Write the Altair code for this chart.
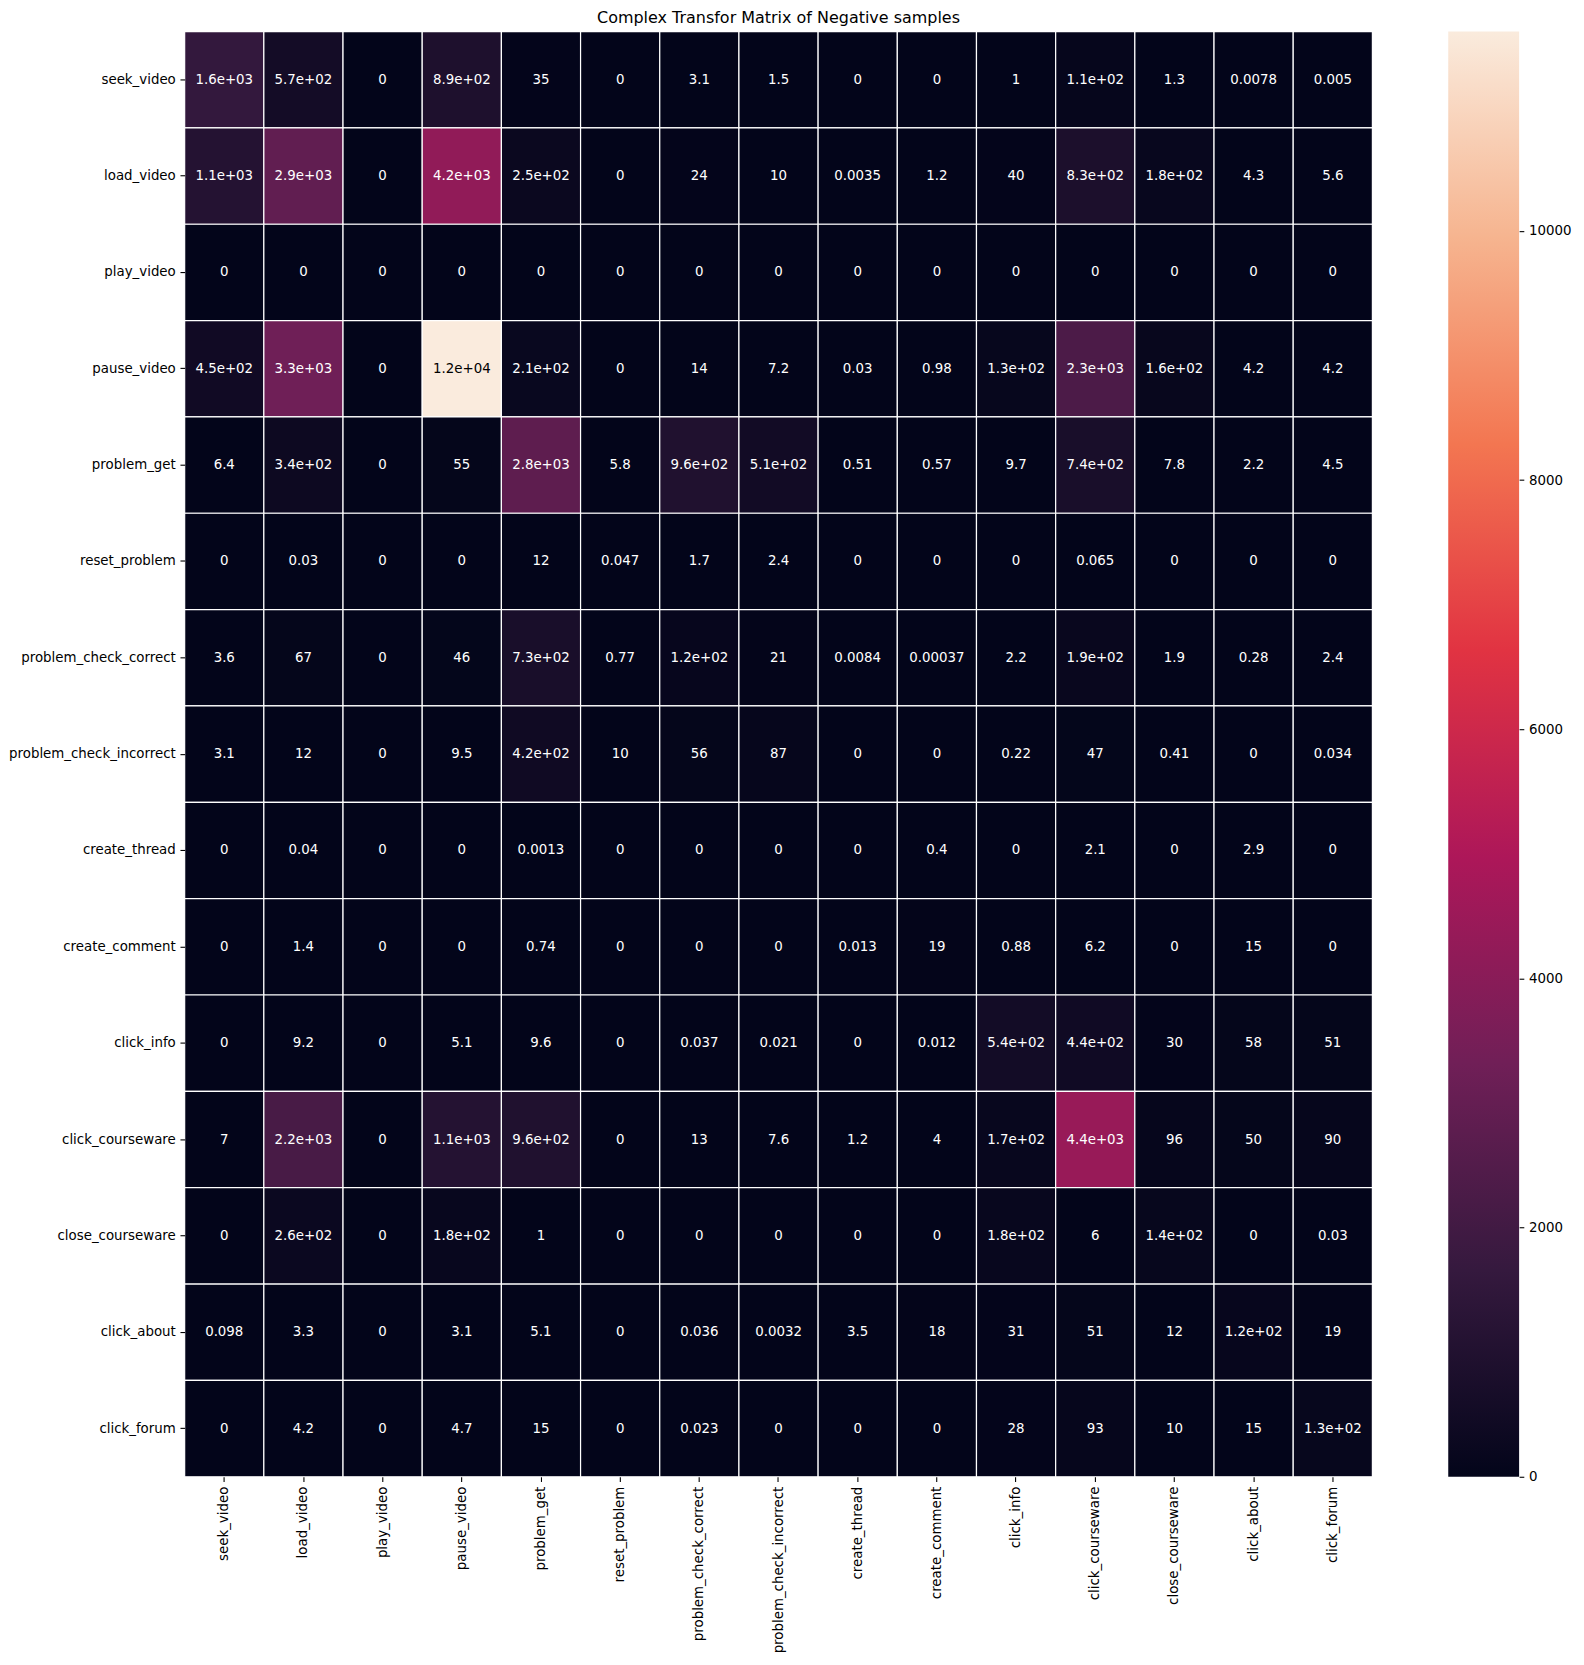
import altair as alt
import pandas as pd

events = ["seek_video", "load_video", "play_video", "pause_video", "problem_get",
          "reset_problem", "problem_check_correct", "problem_check_incorrect",
          "create_thread", "create_comment", "click_info", "click_courseware",
          "close_courseware", "click_about", "click_forum"]

# rows = source event, columns = target event (same order as `events`)
seek_video = [1600, 570, 0, 890, 35, 0, 3.1, 1.5, 0, 0, 1, 110, 1.3, 0.0078, 0.005]
load_video = [1100, 2900, 0, 4200, 250, 0, 24, 10, 0.0035, 1.2, 40, 830, 180, 4.3, 5.6]
play_video = [0, 0, 0, 0, 0, 0, 0, 0, 0, 0, 0, 0, 0, 0, 0]
pause_video = [450, 3300, 0, 11600, 210, 0, 14, 7.2, 0.03, 0.98, 130, 2300, 160, 4.2, 4.2]
problem_get = [6.4, 340, 0, 55, 2800, 5.8, 960, 510, 0.51, 0.57, 9.7, 740, 7.8, 2.2, 4.5]
reset_problem = [0, 0.03, 0, 0, 12, 0.047, 1.7, 2.4, 0, 0, 0, 0.065, 0, 0, 0]
problem_check_correct = [3.6, 67, 0, 46, 730, 0.77, 120, 21, 0.0084, 0.00037, 2.2, 190, 1.9, 0.28, 2.4]
problem_check_incorrect = [3.1, 12, 0, 9.5, 420, 10, 56, 87, 0, 0, 0.22, 47, 0.41, 0, 0.034]
create_thread = [0, 0.04, 0, 0, 0.0013, 0, 0, 0, 0, 0.4, 0, 2.1, 0, 2.9, 0]
create_comment = [0, 1.4, 0, 0, 0.74, 0, 0, 0, 0.013, 19, 0.88, 6.2, 0, 15, 0]
click_info = [0, 9.2, 0, 5.1, 9.6, 0, 0.037, 0.021, 0, 0.012, 540, 440, 30, 58, 51]
click_courseware = [7, 2200, 0, 1100, 960, 0, 13, 7.6, 1.2, 4, 170, 4400, 96, 50, 90]
close_courseware = [0, 260, 0, 180, 1, 0, 0, 0, 0, 0, 180, 6, 140, 0, 0.03]
click_about = [0.098, 3.3, 0, 3.1, 5.1, 0, 0.036, 0.0032, 3.5, 18, 31, 51, 12, 120, 19]
click_forum = [0, 4.2, 0, 4.7, 15, 0, 0.023, 0, 0, 0, 28, 93, 10, 15, 130]

matrix = [seek_video, load_video, play_video, pause_video, problem_get, reset_problem,
          problem_check_correct, problem_check_incorrect, create_thread, create_comment,
          click_info, click_courseware, close_courseware, click_about, click_forum]

colorbar_ticks = [0, 2000, 4000, 6000, 8000, 10000]

# seaborn "rocket" colormap stops
rocket_colors = ["#03051a", "#35193e", "#701f57", "#ad1759", "#e13342", "#f37651", "#f6b48f", "#faebdd"]
rocket_pos = [0, 1 / 7, 2 / 7, 3 / 7, 4 / 7, 5 / 7, 6 / 7, 1]

records = []
for i, src in enumerate(events):
    for j, dst in enumerate(events):
        v = matrix[i][j]
        records.append({"src": src, "dst": dst, "value": v, "label": f"{v:.2g}"})
df = pd.DataFrame(records)
vmax = max(max(r) for r in matrix)

FONT = "DejaVu Sans"
FS = 13.4
TICK = 4.7

color_scale = alt.Scale(domain=[p * vmax for p in rocket_pos], range=rocket_colors,
                        interpolate="rgb")

xenc = alt.X("dst:N", sort=events, title=None,
             scale=alt.Scale(paddingInner=0, paddingOuter=0),
             axis=alt.Axis(labelAngle=270, tickSize=TICK, labelPadding=TICK, domain=False,
                           grid=False))
yenc = alt.Y("src:N", sort=events, title=None,
             scale=alt.Scale(paddingInner=0, paddingOuter=0),
             axis=alt.Axis(tickSize=TICK, labelPadding=TICK, domain=False, grid=False))

base = alt.Chart(df)
cells = base.mark_rect(stroke="white", strokeWidth=1.2).encode(
    x=xenc, y=yenc,
    color=alt.Color("value:Q", scale=color_scale, legend=None),
)
texts = base.mark_text(font=FONT, fontSize=FS, align="center", baseline="middle").encode(
    x=xenc, y=yenc,
    text="label:N",
    color=alt.condition("datum.value > 8000", alt.value("black"), alt.value("white")),
)
heat = alt.layer(cells, texts).properties(
    width=1190, height=1448,
    title=alt.TitleParams("Complex Transfor Matrix of Negative samples", font=FONT,
                          fontSize=16, fontWeight="normal", color="black", offset=5),
)

cb_df = pd.DataFrame({"bar": ["cb"], "lo": [0], "hi": [vmax]})
gradient = alt.LinearGradient(
    gradient="linear", x1=0, x2=0, y1=1, y2=0,
    stops=[alt.GradientStop(offset=p, color=c) for p, c in zip(rocket_pos, rocket_colors)],
)
colorbar = alt.Chart(cb_df).mark_rect(fill=gradient, strokeWidth=0).encode(
    x=alt.X("bar:N", axis=None, scale=alt.Scale(paddingInner=0, paddingOuter=0)),
    y=alt.Y("lo:Q", title=None, scale=alt.Scale(domain=[0, vmax], nice=False, zero=True),
            axis=alt.Axis(orient="right", values=colorbar_ticks, format="d", grid=False,
                          domain=False, tickSize=TICK, labelPadding=TICK)),
    y2="hi:Q",
).properties(width=71, height=1448)

chart = alt.hconcat(heat, colorbar, spacing=76, bounds="flush").properties(
    padding={"left": 0, "top": 0, "right": 5, "bottom": 0},
    background="white",
).configure_view(stroke=None).configure_axis(
    labelFont=FONT, labelFontSize=FS, labelColor="black", tickColor="black", tickWidth=1.1,
)

chart.save("out.html", embed_options={"renderer": "svg", "actions": False})
